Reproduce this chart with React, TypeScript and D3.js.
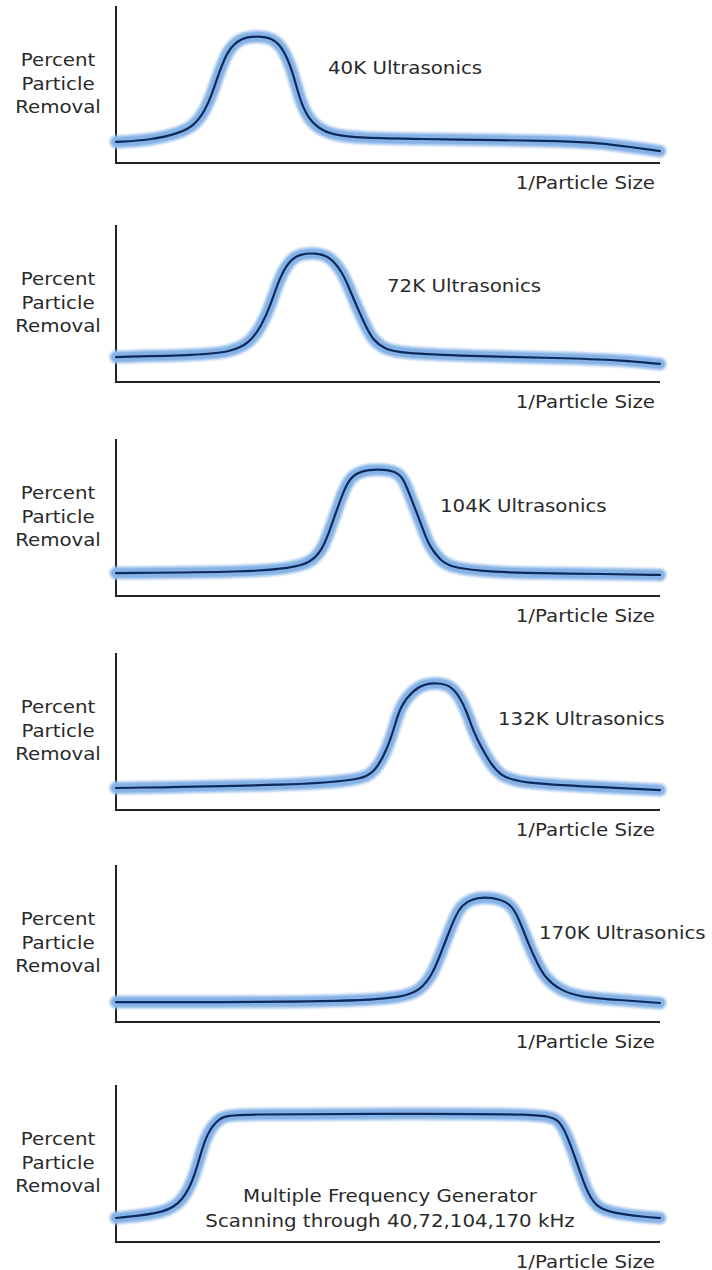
import React from "react";
import * as d3 from "d3";

// Horizontal axis: relative 1/particle size (0..100), vertical: percent particle removal (0..100)
const curve40K: [number, number][] = [
  [0, 13.4], [6.3, 14.6], [11.8, 19.1], [14.5, 24.2], [16.4, 33.8], [17.6, 43.3], [19.1, 59.2],
  [20.6, 72.0], [22.8, 79.6], [26.1, 80.9], [28.7, 79.6], [30.7, 73.2], [32.4, 59.2], [33.8, 40.1],
  [35.3, 28.7], [37.1, 22.3], [39.9, 17.8], [44.9, 15.9], [55.9, 15.3], [70.6, 14.6], [81.6, 14.0],
  [89.0, 12.7], [94.5, 10.2], [100, 7.6],
];
const curve72K: [number, number][] = [
  [0, 15.9], [15.4, 17.2], [21.0, 19.1], [24.6, 24.8], [26.8, 36.3], [28.3, 47.8], [30.1, 66.9],
  [32.0, 77.7], [33.8, 81.5], [36.6, 82.2], [39.3, 80.3], [41.7, 69.4], [43.0, 58.6], [44.3, 47.8],
  [45.8, 36.3], [47.2, 26.8], [49.4, 21.0], [52.2, 18.5], [64.5, 16.6], [81.6, 15.3], [92.6, 14.0],
  [100, 11.5],
];
const curve104K: [number, number][] = [
  [0, 14.6], [24.6, 15.3], [32.0, 17.8], [35.7, 21.0], [37.9, 29.3], [39.3, 42.0], [40.6, 54.8],
  [41.7, 65.6], [43.0, 75.2], [44.9, 79.6], [48.2, 80.9], [51.3, 79.6], [52.8, 75.2], [54.0, 64.3],
  [55.3, 52.9], [56.6, 40.8], [57.7, 31.2], [59.6, 22.9], [61.4, 18.5], [66.9, 15.9], [73.7, 14.6],
  [90.8, 14.0], [100, 13.4],
];
const curve132K: [number, number][] = [
  [0, 14.0], [33.8, 15.9], [44.9, 19.1], [47.6, 24.2], [49.8, 38.2], [51.3, 54.1], [52.2, 65.6],
  [54.6, 76.4], [56.8, 80.3], [59.0, 80.9], [61.4, 79.6], [63.2, 72.0], [64.5, 62.4], [65.6, 51.0],
  [67.1, 40.1], [68.8, 29.9], [70.6, 22.3], [73.7, 17.2], [89.0, 14.6], [100, 12.7],
];
const curve170K: [number, number][] = [
  [0, 12.7], [43.4, 12.7], [53.1, 15.9], [55.9, 20.4], [58.1, 29.9], [59.6, 42.7], [61.2, 57.3],
  [62.5, 68.2], [63.6, 74.5], [65.4, 78.3], [67.8, 79.6], [70.6, 78.3], [72.8, 74.5], [74.3, 63.7],
  [75.9, 49.0], [77.4, 37.6], [78.9, 28.0], [81.6, 20.4], [85.1, 15.9], [92.6, 14.0], [100, 12.1],
];
const curveMulti: [number, number][] = [
  [0, 15.3], [9.4, 18.5], [12.3, 26.8], [14.2, 39.5], [15.4, 54.1], [16.7, 69.4], [19.1, 79.6],
  [21.5, 81.5], [52.2, 81.6], [78.9, 81.8], [81.3, 77.7], [82.5, 71.3], [84.4, 54.1], [86.2, 35.0],
  [88.1, 22.3], [91.2, 18.5], [97.2, 15.9], [100, 15.3],
];

const seriesCurves = [curve40K, curve72K, curve104K, curve132K, curve170K, curveMulti];
const seriesLabels = [
  ["40K Ultrasonics"],
  ["72K Ultrasonics"],
  ["104K Ultrasonics"],
  ["132K Ultrasonics"],
  ["170K Ultrasonics"],
  ["Multiple Frequency Generator", "Scanning through 40,72,104,170 kHz"],
];
const yAxisLabelLines = ["Percent", "Particle", "Removal"];
const xAxisLabel = "1/Particle Size";

// layout
const PANEL_AXIS_Y = [163, 382, 596, 810, 1022, 1242];
const PLOT_H = 157;
const X0 = 116;
const X1 = 660;
const LABEL_POS: { x: number; dy: number; anchor: string }[] = [
  { x: 328, dy: -89.5, anchor: "start" },
  { x: 387, dy: -90.5, anchor: "start" },
  { x: 440, dy: -84.5, anchor: "start" },
  { x: 498, dy: -85.5, anchor: "start" },
  { x: 539, dy: -83.5, anchor: "start" },
  { x: 390, dy: -40.5, anchor: "middle" },
];

const FONT = "'DejaVu Sans', Verdana, sans-serif";
const TEXT_COLOR = "#2a2a2a";

function ScaledText({ x, y, anchor = "start", children }: any) {
  return (
    <text
      transform={`translate(${x},${y}) scale(1.1,1)`}
      textAnchor={anchor}
      fontFamily={FONT}
      fontSize={18}
      fill={TEXT_COLOR}
    >
      {children}
    </text>
  );
}

function Panel({ idx }: { idx: number }) {
  const axisY = PANEL_AXIS_Y[idx];
  const x = d3.scaleLinear().domain([0, 100]).range([X0, X1]);
  const y = d3.scaleLinear().domain([0, 100]).range([axisY, axisY - PLOT_H]);
  const line = d3
    .line<[number, number]>()
    .x((d) => x(d[0]))
    .y((d) => y(d[1]))
    .curve(d3.curveBasis);
  const path = line(seriesCurves[idx]) || "";
  const lp = LABEL_POS[idx];
  return (
    <g>
      {yAxisLabelLines.map((t, i) => (
        <ScaledText key={t} x={58} y={axisY - 97 + i * 23.5} anchor="middle">
          {t}
        </ScaledText>
      ))}
      <line x1={X0} x2={X0} y1={axisY - PLOT_H} y2={axisY + 1} stroke="#222" strokeWidth={2} />
      <line x1={X0} x2={X1} y1={axisY} y2={axisY} stroke="#222" strokeWidth={2} />
      <path d={path} fill="none" stroke="#9dc1ec" strokeWidth={13} strokeLinecap="round" strokeLinejoin="round" filter="url(#soft)" />
      <path d={path} fill="none" stroke="#86b2e6" strokeWidth={9} strokeLinecap="round" strokeLinejoin="round" />
      <path d={path} fill="none" stroke="#0d2a5c" strokeWidth={2.2} strokeLinecap="round" strokeLinejoin="round" />
      {seriesLabels[idx].map((t, i) => (
        <ScaledText key={t} x={lp.x} y={axisY + lp.dy + i * 25} anchor={lp.anchor}>
          {t}
        </ScaledText>
      ))}
      <ScaledText x={655} y={axisY + 25.5} anchor="end">
        {xAxisLabel}
      </ScaledText>
    </g>
  );
}

export default function App() {
  return (
    <svg
      width={712}
      height={1270}
      viewBox="0 0 712 1270"
      style={{ position: "absolute", left: 0, top: 0, background: "#fff" }}
    >
      <defs>
        <filter id="soft" x="-5%" y="-20%" width="110%" height="140%">
          <feGaussianBlur stdDeviation="1" />
        </filter>
      </defs>
      <rect width={712} height={1270} fill="#fff" />
      {seriesCurves.map((_, i) => (
        <Panel key={i} idx={i} />
      ))}
    </svg>
  );
}
